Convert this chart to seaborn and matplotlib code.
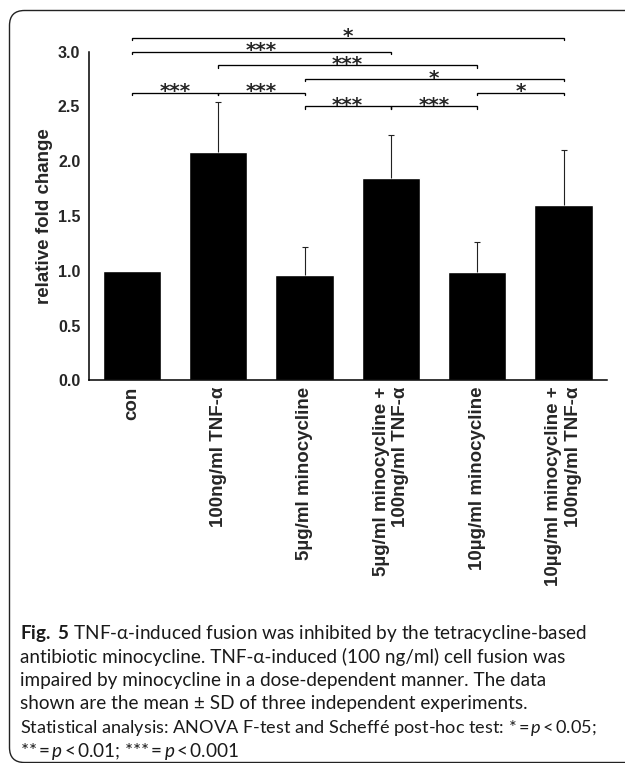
import numpy as np
import matplotlib
matplotlib.use("Agg")
import matplotlib.pyplot as plt
import matplotlib.transforms as mtransforms
from matplotlib.patches import FancyBboxPatch
from matplotlib.ticker import MultipleLocator, FormatStrFormatter
import seaborn as sns

# bar data (mean fold change, upper SD)
categories = [
    "con",
    "100ng/ml TNF-α",
    "5µg/ml minocycline",
    "5µg/ml minocycline +\n100ng/ml TNF-α",
    "10µg/ml minocycline",
    "10µg/ml minocycline +\n100ng/ml TNF-α",
]
fold_change = [1.0, 2.085, 0.957, 1.85, 0.993, 1.597]
sd_upper = [0.0, 0.455, 0.263, 0.386, 0.273, 0.503]

# significance brackets (group index pairs)
sig_left = [0, 0, 1, 2, 0, 1, 4, 2, 3]
sig_right = [5, 3, 4, 5, 1, 2, 5, 3, 4]
sig_level = [3.125, 3.0, 2.875, 2.75, 2.625, 2.625, 2.625, 2.5, 2.5]
sig_label = ["*", "***", "***", "*", "***", "***", "*", "***", "***"]

thin = "\u2009"
caption_lines = [
    r"$\mathbf{Fig.}$ $\mathbf{5}$ TNF-α-induced fusion was inhibited by the tetracycline-based",
    "antibiotic minocycline. TNF-α-induced (100 ng/ml) cell fusion was",
    "impaired by minocycline in a dose-dependent manner. The data",
    "shown are the mean ± SD of three independent experiments.",
    f"Statistical analysis: ANOVA F-test and Scheffé post-hoc test: *{thin}={thin}$p${thin}<{thin}0.05;",
    f"**{thin}={thin}$p${thin}<{thin}0.01; ***{thin}={thin}$p${thin}<{thin}0.001",
]
caption_sizes = [13.6, 13.6, 13.6, 13.6, 13.1, 13.6]

sns.set_style("white")
plt.rcParams["font.family"] = ["Liberation Sans", "DejaVu Sans"]
plt.rcParams["mathtext.fontset"] = "custom"
plt.rcParams["mathtext.rm"] = "Lato"
plt.rcParams["mathtext.it"] = "Lato:italic"
plt.rcParams["mathtext.bf"] = "Lato:bold"

W, H = 625, 763
fig = plt.figure(figsize=(W / 100, H / 100), dpi=100)
ax = fig.add_axes([88.7 / W, 1 - 380.3 / H, (606.7 - 88.7) / W, (380.3 - 51.7) / H])

sns.barplot(x=categories, y=fold_change, color="black", saturation=1,
            width=0.677, errorbar=None, ax=ax)

# upper error bars only (line + cap)
idx = [i for i, s in enumerate(sd_upper) if s > 0]
tops = [fold_change[i] + sd_upper[i] for i in idx]
ax.vlines(idx, [fold_change[i] for i in idx], tops, color="#222222", lw=0.8)
ax.plot(idx, tops, ls="none", marker="_", ms=4, mew=0.8, color="#222222")

ax.set_xlim(-0.5, 5.5)
ax.set_ylim(0, 3.0)
for s in ["top", "right"]:
    ax.spines[s].set_visible(False)
for s in ["left", "bottom"]:
    ax.spines[s].set_color("black")
    ax.spines[s].set_linewidth(1.1)

ax.yaxis.set_major_locator(MultipleLocator(0.5))
ax.yaxis.set_minor_locator(MultipleLocator(0.25))
ax.yaxis.set_major_formatter(FormatStrFormatter("%.1f"))
ax.tick_params(axis="y", which="both", direction="out", length=3, width=1,
               color="black", labelsize=11.5, pad=3)
plt.setp(ax.get_yticklabels(), fontweight="bold")

ax.set_xticks(range(len(categories)))
ax.set_xticklabels(categories, rotation=90, fontsize=13.5, fontweight="bold",
                   ha="center", va="top", multialignment="right")
ax.set_xticks(np.arange(-0.5, len(categories), 1), minor=True)
ax.tick_params(axis="x", which="major", length=0, pad=4.5)
ax.tick_params(axis="x", which="minor", direction="out", length=3, width=1, color="black")
ax.set_xlabel("")

ax.set_ylabel("relative fold change", fontsize=13.5, fontweight="bold")
ax.yaxis.set_label_coords(-0.069, 0.5)

# significance brackets
tick = 0.022
for l, r, lvl, lab in zip(sig_left, sig_right, sig_level, sig_label):
    ax.plot([l, l, r, r], [lvl - tick, lvl, lvl, lvl - tick], color="black",
            lw=0.95, clip_on=False, solid_joinstyle="miter")
    ax.annotate(lab, xy=((l + r) / 2, lvl), xytext=(0, -3.2), textcoords="offset points",
                ha="center", va="baseline", fontsize=14.5, fontweight="bold",
                family="DejaVu Sans", annotation_clip=False)

# rounded frame round the figure
frame = FancyBboxPatch((9.5, 0.5), 700, H - 10.5 - 0.5,
                       boxstyle="round,pad=0,rounding_size=15",
                       transform=mtransforms.IdentityTransform(),
                       facecolor="none", edgecolor="#222222", lw=1.0)
fig.add_artist(frame)

# caption
for k, (line, fs) in enumerate(zip(caption_lines, caption_sizes)):
    fig.text(20, H - (639 + 23.5 * k), line, transform=mtransforms.IdentityTransform(),
             family=["Lato", "DejaVu Sans"], fontsize=fs, color="#1a1a1a",
             va="baseline", ha="left")

fig.savefig("out.png", dpi=100)
